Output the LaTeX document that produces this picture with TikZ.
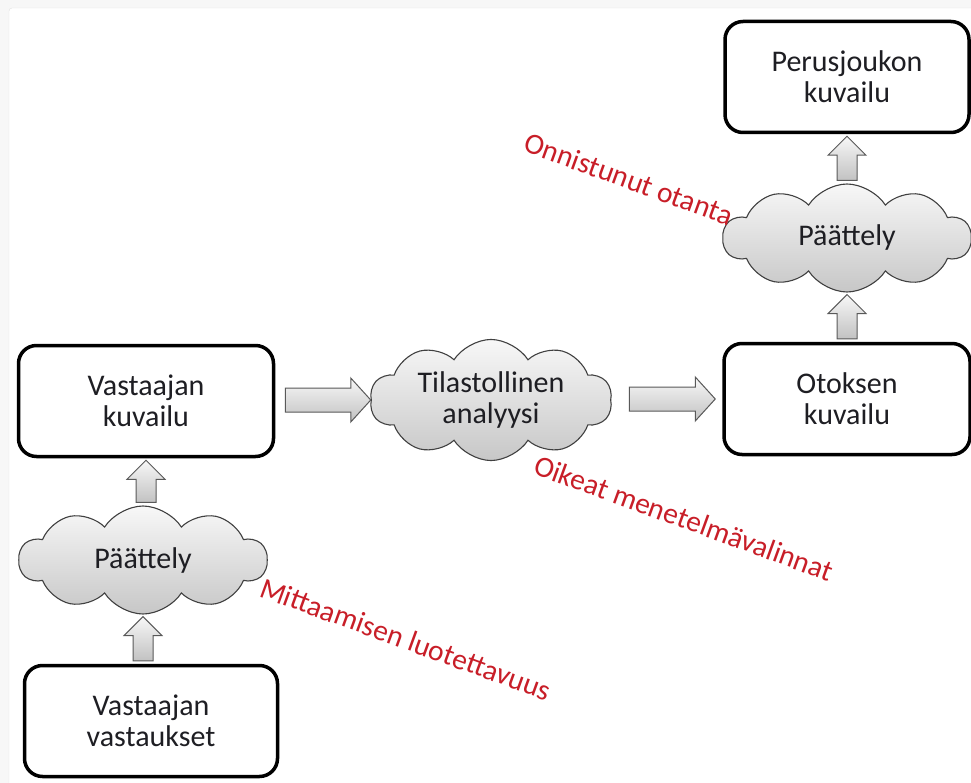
\documentclass[tikz,border=0pt]{standalone}
\usepackage{fontspec}
\setmainfont{Carlito}
\usetikzlibrary{shapes.symbols,calc}
\definecolor{lbl}{RGB}{200,30,40}
\definecolor{txt}{RGB}{30,30,35}
\tikzset{
  box/.style={draw=black, line width=3.5pt, rounded corners=18pt, fill=white,
    minimum width=#1, minimum height=111, align=center, text=txt,
    font=\fontsize{30}{31}\selectfont},
  box/.default=250,
  thought/.style={cloud, cloud puffs=10, cloud puff arc=115, aspect=2.3,
    draw=black!75, line width=1.1pt, top color=white!97!black, bottom color=white!78!black,
    minimum width=248, minimum height=108, inner sep=0pt, align=center, text=txt,
    font=\fontsize{30}{31}\selectfont},
  blockarrow/.style={draw=black!65, line width=1pt, top color=white!97!black, bottom color=white!76!black},
  redlabel/.style={text=lbl, font=\fontsize{29.5}{30}\selectfont, rotate=-20, inner sep=0pt}
}
\newcommand{\upblk}[2]{%
  \path[blockarrow] let \p1=(#1.north), \p2=(#2.south) in
   (\x2-10pt,\y1+3pt) -- (\x2-10pt,\y2-21pt) -- (\x2-19pt,\y2-21pt) -- (\x2,\y2-2pt)
   -- (\x2+19pt,\y2-21pt) -- (\x2+10pt,\y2-21pt) -- (\x2+10pt,\y1+3pt) -- cycle;}
\newcommand{\rightblk}[4]{%
  \path[blockarrow] let \p1=(#1.east), \p2=(#2.west) in
   (\x1+#3,\y2+12pt) -- (\x2-#4-20pt,\y2+12pt) -- (\x2-#4-20pt,\y2+22pt) -- (\x2-#4,\y2)
   -- (\x2-#4-20pt,\y2-22pt) -- (\x2-#4-20pt,\y2-12pt) -- (\x1+#3,\y2-12pt) -- cycle;}
\begin{document}
\begin{tikzpicture}[x=1pt,y=-1pt]
\useasboundingbox (0,0) rectangle (971,783);
\fill[black!3] (0,0) rectangle (971,783);
\draw[black!12, fill=white, rounded corners=3pt] (9,8) rectangle (985,800);

\node[box=244] (perus) at (847,77) {Perusjoukon\\kuvailu};
\node[thought] (p2) at (847,238) {Päättely};
\node[box=246] (otos) at (847,399) {Otoksen\\kuvailu};
\node[thought, minimum width=242, minimum height=104] (tila) at (491,400) {Tilastollinen\\analyysi};
\node[box=255] (vk) at (146,401) {Vastaajan\\kuvailu};
\node[thought] (p1) at (143,560) {Päättely};
\node[box=253] (vv) at (151,721) {Vastaajan\\vastaukset};

\upblk{p2}{perus}
\upblk{otos}{p2}
\upblk{p1}{vk}
\upblk{vv}{p1}
\rightblk{vk}{tila}{10pt}{0pt}
\rightblk{tila}{otos}{18pt}{7pt}

\node[redlabel] (l1) at (629,179) {Onnistunut otanta};
\node[redlabel] (l2) at (684,518) {Oikeat menetelmävalinnat};
\node[redlabel] (l3) at (406,639) {Mittaamisen luotettavuus};
\end{tikzpicture}
\end{document}
